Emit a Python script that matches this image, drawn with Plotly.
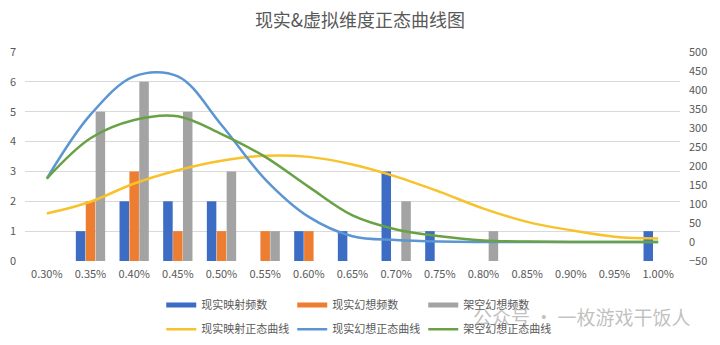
import plotly.graph_objects as go

# X categories (ratio bins)
categories = ["0.30%", "0.35%", "0.40%", "0.45%", "0.50%", "0.55%", "0.60%", "0.65%",
              "0.70%", "0.75%", "0.80%", "0.85%", "0.90%", "0.95%", "1.00%"]

# Frequency counts (left axis)
real_map_freq = [0, 1, 2, 2, 2, 0, 1, 1, 3, 1, 0, 0, 0, 0, 1]
real_fantasy_freq = [0, 2, 3, 1, 1, 1, 1, 0, 0, 0, 0, 0, 0, 0, 0]
fiction_fantasy_freq = [0, 5, 6, 5, 3, 1, 0, 0, 2, 0, 1, 0, 0, 0, 0]

# Normal-curve values (right axis)
real_map_curve = [75, 106, 154, 189, 214, 227, 224, 204, 172, 132, 88, 53, 31, 14, 9]
real_fantasy_curve = [167, 335, 436, 436, 308, 165, 66, 15, 5, 1, 0, 0, 0, 0, 0]
fiction_fantasy_curve = [167, 273, 321, 331, 284, 224, 145, 70, 33, 15, 4, 1, 0, 0, 0]

FONT = "Noto Sans CJK SC"
TXT = "#595959"

fig = go.Figure()

bar_specs = [
    ("现实映射频数", real_map_freq, "#3D6CC4"),
    ("现实幻想频数", real_fantasy_freq, "#ED7D31"),
    ("架空幻想频数", fiction_fantasy_freq, "#A3A3A3"),
]
for i, (name, vals, color) in enumerate(bar_specs):
    grp = f"bar{i}"
    fig.add_trace(go.Bar(x=categories, y=vals, name=name, marker_color=color,
                         marker_line_width=0, legendgroup=grp, showlegend=False, yaxis="y"))
    # wide flat swatch for the legend entry
    fig.add_trace(go.Scatter(x=[None], y=[None], name=name, mode="lines",
                             line=dict(color=color, width=5), legendgroup=grp,
                             legend="legend", yaxis="y"))

line_specs = [
    ("现实映射正态曲线", real_map_curve, "#F7C22B"),
    ("现实幻想正态曲线", real_fantasy_curve, "#5B95D2"),
    ("架空幻想正态曲线", fiction_fantasy_curve, "#68A244"),
]
for name, vals, color in line_specs:
    fig.add_trace(go.Scatter(x=categories, y=vals, name=name, mode="lines",
                             line=dict(color=color, width=2.5, shape="spline", smoothing=1.0),
                             legend="legend2", yaxis="y2"))

legend_common = dict(orientation="h", xanchor="left", yanchor="middle",
                     bgcolor="rgba(0,0,0,0)", font=dict(family=FONT, size=11, color=TXT),
                     entrywidth=86, entrywidthmode="pixels", tracegroupgap=0,
                     itemwidth=30)

fig.update_layout(
    width=720, height=345,
    margin=dict(l=25, r=40, t=52, b=84, autoexpand=False),
    paper_bgcolor="white", plot_bgcolor="white",
    font=dict(family=FONT, color=TXT, size=11),
    title=dict(text="现实&虚拟维度正态曲线图", x=0.5, xanchor="center", y=0.94, yanchor="middle",
               font=dict(family=FONT, size=18, color=TXT)),
    barmode="group", bargap=0.32, bargroupgap=0.04,
    showlegend=True,
    legend=dict(x=0.208, y=-0.21, **legend_common),
    legend2=dict(x=0.208, y=-0.326, **legend_common),
    xaxis=dict(type="category", showgrid=False, showline=False, ticks="",
               tickfont=dict(family=FONT, size=11, color=TXT), ticklabelstandoff=5),
    yaxis=dict(range=[0, 7], dtick=1, showgrid=True, gridcolor="#D9D9D9", gridwidth=1,
               zeroline=False, showline=False, ticks="", ticklabelstandoff=8,
               tickfont=dict(family=FONT, size=11, color=TXT)),
    yaxis2=dict(range=[-50, 500], dtick=50, overlaying="y", side="right", showgrid=False,
                zeroline=False, showline=False, ticks="", ticklabelstandoff=8,
                tickfont=dict(family=FONT, size=11, color=TXT)),
)

# Account watermark text in the footer
fig.add_annotation(text="公众号 · 一枚游戏干饭人", xref="paper", yref="paper",
                   x=0.85, y=-0.265, xanchor="center", yanchor="middle", showarrow=False,
                   font=dict(family=FONT, size=19, color="rgba(140,140,140,0.55)"))

fig.write_html("out.html")
